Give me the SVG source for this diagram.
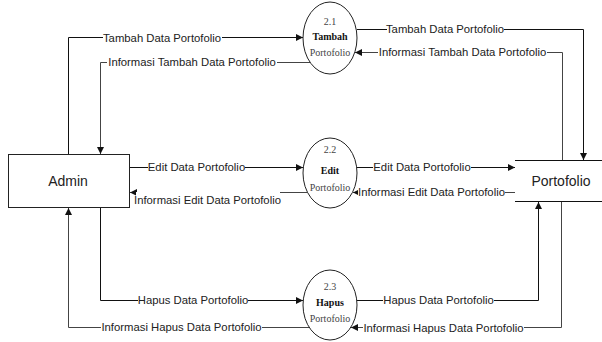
<svg xmlns="http://www.w3.org/2000/svg" width="602" height="342" viewBox="0 0 602 342">
<style>
.ln{fill:none;stroke:#111;stroke-width:1}
.ln2{fill:none;stroke:#444;stroke-width:1}
.lb{font-family:"Liberation Sans",Arial,sans-serif;font-size:11.3px;fill:#222;text-anchor:middle}
.bg{fill:#fff}
.pn{fill:#fff;stroke:#222;stroke-width:1}
.nt{font-family:"Liberation Serif","Times New Roman",serif;font-size:10px;text-anchor:middle;fill:#444}
.nb{font-family:"Liberation Serif","Times New Roman",serif;font-size:10px;text-anchor:middle;fill:#111;font-weight:bold}
.big{font-family:"Liberation Sans",Arial,sans-serif;font-size:14px;text-anchor:middle;fill:#222}
</style>
<defs>
<marker id="ar" markerWidth="7" markerHeight="7" refX="7" refY="3.5" orient="auto" markerUnits="userSpaceOnUse">
<path d="M0,0 L7,3.5 L0,7 z" fill="#111"/>
</marker>
</defs>
<rect width="602" height="342" fill="#fff"/>
<g id="connectors">
<polyline class="ln" points="68.5,154 68.5,37.5 303,37.5" marker-end="url(#ar)"/>
<polyline class="ln2" points="310,62.5 100.5,62.5 100.5,154" marker-end="url(#ar)"/>
<polyline class="ln" points="357,29.5 583.5,29.5 583.5,160" marker-end="url(#ar)"/>
<polyline class="ln2" points="562.5,160 562.5,52.5 355,52.5" marker-end="url(#ar)"/>
<polyline class="ln" points="129,167.5 303,167.5" marker-end="url(#ar)"/>
<polyline class="ln2" points="309,192.5 130,192.5" marker-end="url(#ar)"/>
<polyline class="ln" points="357,167.5 515,167.5" marker-end="url(#ar)"/>
<polyline class="ln2" points="515,192.5 353,192.5" marker-end="url(#ar)"/>
<polyline class="ln" points="100.5,208 100.5,300.5 303,300.5" marker-end="url(#ar)"/>
<polyline class="ln2" points="309,327.5 68.5,327.5 68.5,208" marker-end="url(#ar)"/>
<polyline class="ln" points="357,300.5 538.5,300.5 538.5,202" marker-end="url(#ar)"/>
<polyline class="ln2" points="561.5,202 561.5,327.5 351,327.5" marker-end="url(#ar)"/>
<rect class="bg" x="103" y="30" width="119" height="14"/>
<text class="lb" x="162" y="41.5">Tambah Data Portofolio</text>
<rect class="bg" x="107" y="55" width="170" height="14"/>
<text class="lb" x="192" y="66">Informasi Tambah Data Portofolio</text>
<rect class="bg" x="387" y="22" width="117" height="14"/>
<text class="lb" x="445" y="33">Tambah Data Portofolio</text>
<rect class="bg" x="378" y="45" width="169" height="14"/>
<text class="lb" x="462.5" y="56">Informasi Tambah Data Portofolio</text>
<rect class="bg" x="148" y="160" width="97" height="14"/>
<text class="lb" x="196.5" y="171">Edit Data Portofolio</text>
<rect class="bg" x="136" y="192" width="144" height="14"/>
<text class="lb" x="207.5" y="204">Informasi Edit Data Portofolio</text>
<rect class="bg" x="373" y="160" width="98" height="14"/>
<text class="lb" x="422" y="171">Edit Data Portofolio</text>
<rect class="bg" x="358" y="185" width="147" height="14"/>
<text class="lb" x="431.5" y="196">Informasi Edit Data Portofolio</text>
<rect class="bg" x="138" y="293" width="110" height="14"/>
<text class="lb" x="193" y="304">Hapus Data Portofolio</text>
<rect class="bg" x="101" y="320" width="161" height="14"/>
<text class="lb" x="181.5" y="331">Informasi Hapus Data Portofolio</text>
<rect class="bg" x="383" y="293" width="111" height="14"/>
<text class="lb" x="438.5" y="304">Hapus Data Portofolio</text>
<rect class="bg" x="363" y="321" width="161" height="14"/>
<text class="lb" x="443.5" y="332">Informasi Hapus Data Portofolio</text>
</g>
<g id="admin">
<rect class="pn" x="8.5" y="154.5" width="121" height="53"/>
<text class="big" x="68" y="186">Admin</text>
</g>
<g id="portofolio">
<line class="ln" x1="515" y1="160.5" x2="602" y2="160.5"/>
<line class="ln" x1="515" y1="201.5" x2="602" y2="201.5"/>
<text class="big" x="561" y="185.5">Portofolio</text>
</g>
<g id="p21">
<ellipse class="pn" cx="330" cy="38" rx="27" ry="36"/>
<text class="nt" x="330" y="25">2.1</text>
<text class="nb" x="330" y="40">Tambah</text>
<text class="nt" x="330" y="55.5">Portofolio</text>
</g>
<g id="p22">
<ellipse class="pn" cx="330" cy="173" rx="27" ry="35"/>
<text class="nt" x="330" y="152.5">2.2</text>
<text class="nb" x="330" y="173.5">Edit</text>
<text class="nt" x="330" y="190.5">Portofolio</text>
</g>
<g id="p23">
<ellipse class="pn" cx="330" cy="305" rx="27" ry="35"/>
<text class="nt" x="330" y="289.5">2.3</text>
<text class="nb" x="330" y="305.5">Hapus</text>
<text class="nt" x="330" y="321.5">Portofolio</text>
</g>
</svg>
